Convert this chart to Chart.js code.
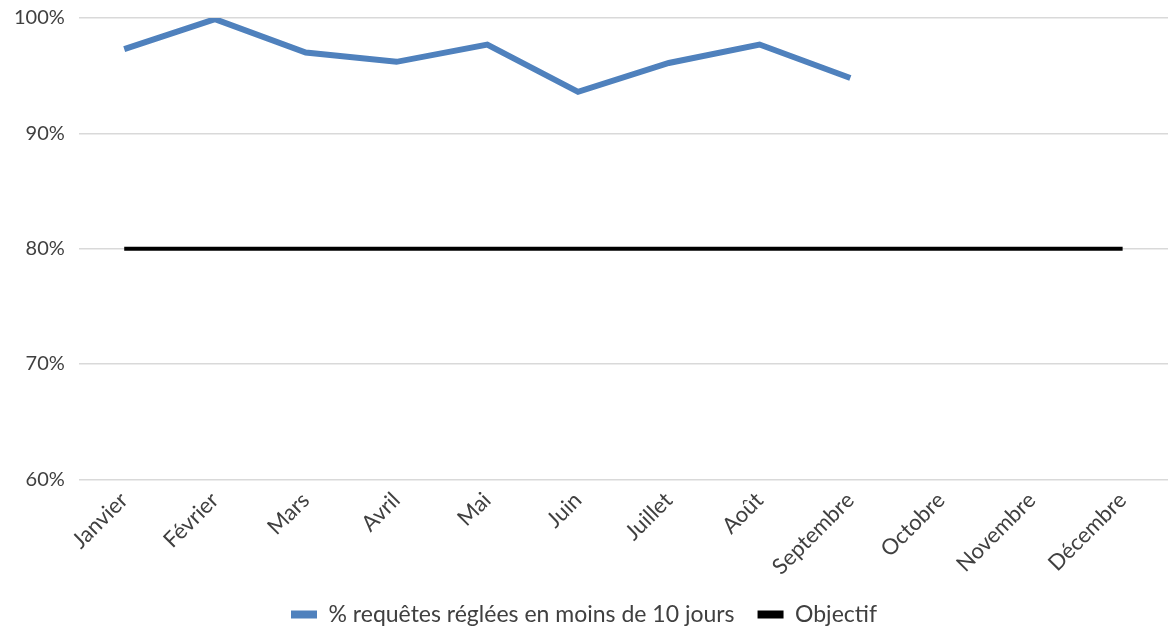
<!DOCTYPE html>
<html>
<head>
  <title>Requêtes réglées en moins de 10 jours</title>
  <script src="https://cdn.jsdelivr.net/npm/chart.js@4.4.0/dist/chart.umd.min.js"></script>
  <style>
    html, body { margin: 0; padding: 0; background: #fff; }
    #wrap { width: 1168px; height: 627px; position: relative; }
  </style>
</head>
<body>
  <div id="wrap"><canvas id="chart"></canvas></div>
  <script>
    // months (x axis)
    var mois = ['Janvier', 'Février', 'Mars', 'Avril', 'Mai', 'Juin', 'Juillet', 'Août',
                'Septembre', 'Octobre', 'Novembre', 'Décembre'];
    // % requêtes réglées en moins de 10 jours (only up to Septembre)
    var requetes = [97.3, 99.9, 97.0, 96.2, 97.7, 93.6, 96.1, 97.7, 94.8, null, null, null];
    // target line
    var objectif = [80, 80, 80, 80, 80, 80, 80, 80, 80, 80, 80, 80];
    var yTicks = [60, 70, 80, 90, 100];

    Chart.defaults.font.family = 'Lato, "Liberation Sans", sans-serif';
    Chart.defaults.font.size = 22;
    Chart.defaults.color = '#404040';

    var ctx = document.getElementById('chart').getContext('2d');
    new Chart(ctx, {
      type: 'line',
      data: {
        labels: mois,
        datasets: [
          {
            label: '% requêtes réglées en moins de 10 jours',
            data: requetes,
            borderColor: '#4f81bd',
            backgroundColor: '#4f81bd',
            borderWidth: 6,
            pointRadius: 0,
            tension: 0,
            spanGaps: false
          },
          {
            label: 'Objectif',
            data: objectif,
            borderColor: '#000000',
            backgroundColor: '#000000',
            borderWidth: 4,
            pointRadius: 0,
            tension: 0
          }
        ]
      },
      options: {
        responsive: true,
        maintainAspectRatio: false,
        animation: false,
        layout: { padding: { top: 0, left: 0, right: 0, bottom: -9 } },
        plugins: {
          tooltip: { enabled: false },
          legend: {
            position: 'bottom',
            labels: {
              boxWidth: 26,
              boxHeight: 8,
              padding: 23,
              font: { size: 23 },
              color: '#404040',
              generateLabels: function (chart) {
                var items = Chart.defaults.plugins.legend.labels.generateLabels(chart);
                items.forEach(function (it) { it.lineWidth = 0; });
                return items;
              }
            }
          }
        },
        scales: {
          x: {
            offset: true,
            grid: { display: false },
            border: { display: false },
            ticks: {
              minRotation: 45,
              maxRotation: 45,
              padding: 0,
              color: '#404040'
            }
          },
          y: {
            min: 60,
            max: 100,
            afterBuildTicks: function (axis) {
              axis.ticks = yTicks.map(function (v) { return { value: v }; });
            },
            afterFit: function (axis) {
              // keep the 100% gridline close to the top edge
              axis.paddingTop = 18;
            },
            grid: { color: '#d9d9d9', lineWidth: 1.5, drawTicks: false },
            border: { display: false },
            ticks: {
              padding: 14,
              font: { size: 20 },
              color: '#404040',
              callback: function (v) { return v + '%'; }
            }
          }
        }
      }
    });
  </script>
</body>
</html>
